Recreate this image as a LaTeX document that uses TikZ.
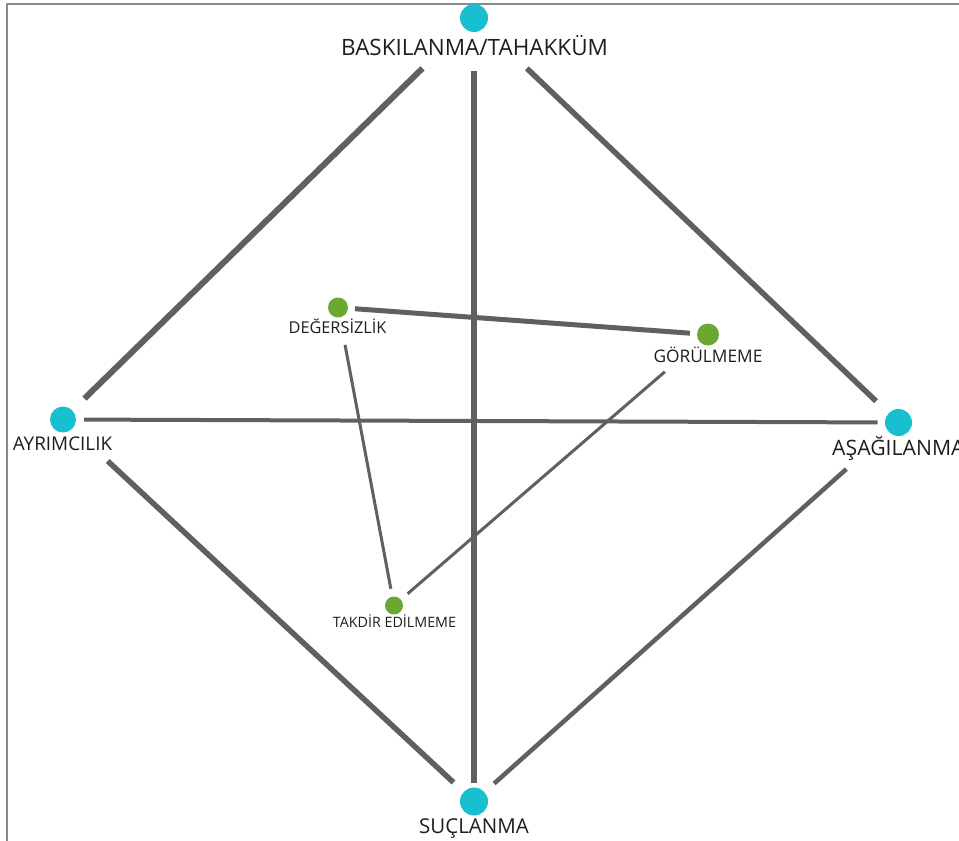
\documentclass[tikz,border=0pt]{standalone}
\usepackage{fontspec}
\setmainfont{Open Sans}
\definecolor{cyandot}{HTML}{17BFCF}
\definecolor{greendot}{HTML}{6AA832}
\definecolor{edgegray}{HTML}{606060}
\definecolor{framegray}{HTML}{8A8A8A}
\definecolor{textcol}{HTML}{1E1E1E}
\begin{document}
\begin{tikzpicture}[x=1pt,y=-1pt,
  cdot/.style={circle,fill=cyandot,inner sep=0pt},
  gdot/.style={circle,fill=greendot,inner sep=0pt},
  lab/.style={text=textcol,inner sep=0pt,anchor=base},
  edge/.style={draw=edgegray,line cap=butt}]
\useasboundingbox (0,0) rectangle (959,841);
\draw[framegray,line width=2pt] (7,841) -- (7,4.3) -- (959,4.3);
% main nodes
\node[cdot,minimum size=28pt] (top) at (474,18) {};
\node[cdot,minimum size=26pt] (left) at (63,419.5) {};
\node[cdot,minimum size=27pt] (right) at (898.5,422.5) {};
\node[cdot,minimum size=28pt] (bottom) at (474,801.5) {};
\node[lab,font=\fontsize{22.5}{26}\selectfont] (toplab) at (474.5,55) {BASKILANMA/TAHAKKÜM};
\node[lab,font=\fontsize{18.9}{22}\selectfont] (leftlab) at (62.5,450) {AYRIMCILIK};
\node[lab,font=\fontsize{21.2}{24}\selectfont,anchor=base west] (rightlab) at (832,455) {AŞAĞILANMA};
\node[lab,font=\fontsize{20.5}{24}\selectfont] (bottomlab) at (474,833) {SUÇLANMA};
% inner nodes
\node[gdot,minimum size=20pt] (deg) at (338,307.5) {};
\node[gdot,minimum size=22pt] (gor) at (708,334.5) {};
\node[gdot,minimum size=18pt] (tak) at (394,605.5) {};
\node[lab,font=\fontsize{16.3}{19}\selectfont] (deglab) at (337.5,333) {DEĞERSİZLİK};
\node[lab,font=\fontsize{17.3}{20}\selectfont] (gorlab) at (708,362) {GÖRÜLMEME};
\node[lab,font=\fontsize{14.3}{17}\selectfont] (taklab) at (394.5,627) {TAKDİR EDİLMEME};
% main edges
\draw[edge,line width=6pt,shorten <=72pt,shorten >=30pt] (top.center) -- (left.center);
\draw[edge,line width=6pt,shorten <=53pt,shorten >=19pt] (top.center) -- (bottom.center);
\draw[edge,line width=5.5pt,shorten <=73pt,shorten >=31pt] (top.center) -- (right.center);
\draw[edge,line width=4pt,shorten <=21pt,shorten >=21pt] (left.center) -- (right.center);
\draw[edge,line width=5.5pt,shorten <=61pt,shorten >=28pt] (left.center) -- (bottom.center);
\draw[edge,line width=4.5pt,shorten <=70pt,shorten >=27pt] (right.center) -- (bottom.center);
% inner edges
\draw[edge,line width=5pt,shorten <=17pt,shorten >=18pt] (deg.center) -- (gor.center);
\draw[edge,line width=3pt,shorten <=38pt,shorten >=17pt] (deg.center) -- (tak.center);
\draw[edge,line width=3pt,shorten <=57pt,shorten >=18pt] (gor.center) -- (tak.center);
\end{tikzpicture}
\end{document}
